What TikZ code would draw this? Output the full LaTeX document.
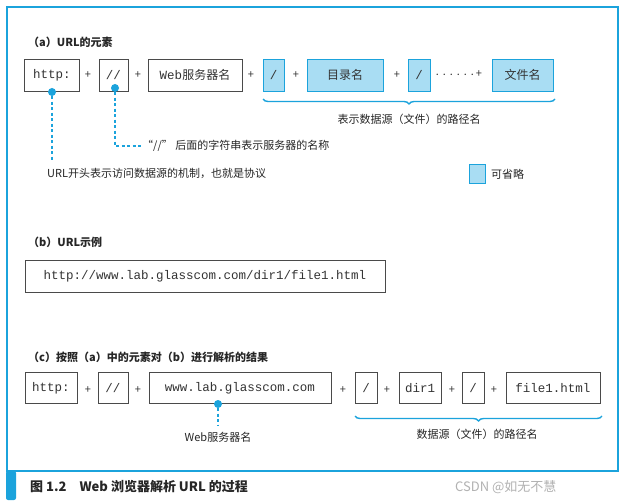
\documentclass[tikz,border=0pt]{standalone}
\usepackage{fontspec}
\setmainfont{Noto Sans CJK SC}
\setmonofont{Liberation Mono}
\newfontfamily\cjk{Noto Sans CJK SC}
\usetikzlibrary{decorations.pathreplacing}
\definecolor{frameblue}{HTML}{1BA3DC}
\definecolor{lightfill}{HTML}{A9DDF3}
\definecolor{boxline}{HTML}{4A4A4A}
\tikzset{
  box/.style={draw=boxline,line width=0.9pt,inner sep=0pt,font=\ttfamily\fontsize{12.5}{14}\selectfont,text=black!80},
  bbox/.style={box,draw=frameblue,fill=lightfill},
  plus/.style={font=\fontsize{11}{12}\selectfont,text=black!80,inner sep=1pt},
  lbl/.style={font=\fontsize{11}{13}\selectfont,text=black!85,inner sep=1pt},
  ttl/.style={font=\fontsize{11}{13}\selectfont\bfseries,text=black!85,anchor=west,inner sep=0pt},
  dot/.style={circle,fill=frameblue,inner sep=0pt,minimum size=8pt},
  dline/.style={frameblue,line width=1.5pt,dash pattern=on 3pt off 2.5pt},
  brc/.style={frameblue,line width=1.4pt,decorate,decoration={brace,mirror,amplitude=5pt}}
}
\begin{document}
\begin{tikzpicture}[x=1pt,y=-1pt]
\useasboundingbox (0,0) rectangle (627,503);
\fill[white] (0,0) rectangle (627,503);
\draw[frameblue,line width=2pt] (7,7) rectangle (618,471);
\fill[frameblue,rounded corners=2pt] (6,471) rectangle (16,500);
\node[anchor=west,font=\fontsize{13}{15}\selectfont\bfseries,text=black!85,inner sep=0pt] (cap) at (30,487) {图 1.2\quad Web 浏览器解析 URL 的过程};
\node[anchor=west,font=\fontsize{13}{15}\selectfont,text=black!30,inner sep=0pt] (wm) at (455,487) {CSDN @如无不慧};
% (a)
\node[ttl] (ta) at (28,42) {（a）URL的元素};
\node[box,minimum width=55,minimum height=32] (a1) at (52,75) {http:};
\node[plus] (p1) at (88,75) {+};
\node[box,minimum width=29,minimum height=32] (a2) at (113.5,75) {//};
\node[plus] (p2) at (138,75) {+};
\node[box,minimum width=94,minimum height=32] (a3) at (195,75) {Web{\cjk\fontsize{12}{14}\selectfont 服务器名}};
\node[plus] (p3) at (251,75) {+};
\node[bbox,minimum width=21,minimum height=32] (a4) at (273.5,75) {/};
\node[plus] (p4) at (296,75) {+};
\node[bbox,minimum width=76,minimum height=32,font=\cjk\fontsize{12}{14}\selectfont] (a5) at (345,75) {目录名};
\node[plus] (p5) at (397,75) {+};
\node[bbox,minimum width=22,minimum height=32] (a6) at (419,75) {/};
\node[plus] (p6) at (458,74) {{\fontsize{7}{8}\selectfont ······}+};
\node[bbox,minimum width=61,minimum height=32,font=\cjk\fontsize{12}{14}\selectfont] (a7) at (522.5,75) {文件名};
\coordinate (b1) at (263,99);
\coordinate (b2) at (555,99);
\draw[brc] (b1) -- (b2);
\node[lbl] (la) at (409,119) {表示数据源（文件）的路径名};
\node[dot] (d1) at (52,92) {};
\node[dot] (d2) at (115,88) {};
\coordinate (e1) at (52,160);
\coordinate (e2) at (115,146);
\node[lbl,anchor=west] (t2) at (141,146) {“//” 后面的字符串表示服务器的名称};
\draw[dline] (d1) -- (e1);
\draw[dline] (d2) -- (e2) -- (t2.west);
\node[lbl,anchor=west] (t1) at (46,173) {URL开头表示访问数据源的机制，也就是协议};
\node[bbox,minimum width=16,minimum height=19] (leg) at (477,174) {};
\node[lbl,anchor=west] (legt) at (490,174) {可省略};
% (b)
\node[ttl] (tb) at (28,242) {（b）URL示例};
\node[box,minimum width=360,minimum height=32] (bx) at (205,276) {http://www.lab.glasscom.com/dir1/file1.html};
% (c)
\node[ttl] (tc) at (28,357) {（c）按照（a）中的元素对（b）进行解析的结果};
\node[box,minimum width=52,minimum height=31] (c1) at (51,388) {http:};
\node[plus] (q1) at (88,390) {+};
\node[box,minimum width=30,minimum height=31] (c2) at (113,388) {//};
\node[plus] (q2) at (138,390) {+};
\node[box,minimum width=182,minimum height=31] (c3) at (240,388) {www.lab.glasscom.com};
\node[plus] (q3) at (343,390) {+};
\node[box,minimum width=22,minimum height=31] (c4) at (366,388) {/};
\node[plus] (q4) at (387,390) {+};
\node[box,minimum width=42,minimum height=31] (c5) at (420,388) {dir1};
\node[plus] (q5) at (452,390) {+};
\node[box,minimum width=22,minimum height=31] (c6) at (473,388) {/};
\node[plus] (q6) at (494,390) {+};
\node[box,minimum width=94,minimum height=31] (c7) at (553,388) {file1.html};
\node[dot] (d3) at (218,404) {};
\coordinate (e3) at (218,425);
\draw[dline] (d3) -- (e3);
\node[lbl] (l3) at (218,437) {Web服务器名};
\coordinate (b3) at (355,416);
\coordinate (b4) at (602,416);
\draw[brc] (b3) -- (b4);
\node[lbl] (l4) at (477,434) {数据源（文件）的路径名};
\end{tikzpicture}
\end{document}
